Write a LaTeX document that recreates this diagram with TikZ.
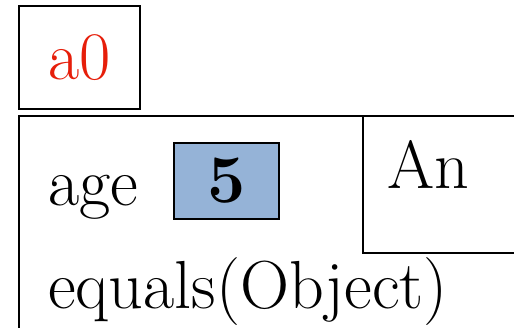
\documentclass[tikz,border=0pt]{standalone}
\usepackage{tikz}
\usetikzlibrary{positioning}
\usepackage{xcolor}
\definecolor{refred}{RGB}{230,30,10}
\definecolor{valblue}{RGB}{149,179,215}
\tikzstyle{label} = [font=\fontsize{68}{80}\selectfont, inner sep=0pt, anchor=base west]
\tikzstyle{refbox} = [rectangle, draw=black, line width=2.8pt, minimum width=121pt, minimum height=103pt, inner sep=0pt, text=refred, font=\fontsize{68}{80}\selectfont]
\tikzstyle{valbox} = [rectangle, draw=black, line width=1.8pt, fill=valblue, minimum width=105pt, minimum height=76pt, inner sep=0pt, font=\fontsize{68}{80}\selectfont\bfseries]
\tikzstyle{frame} = [draw=black, line width=2.8pt]
\tikzstyle{field} = [draw=black, line width=1.6pt]

\begin{document}
\begin{tikzpicture}[x=1pt,y=-1pt]
        \useasboundingbox (0,0) rectangle (514,327);
        \clip (0,0) rectangle (514,327);
        \node (a0) [refbox] at (79.5,57.5) {a0};
        
        \draw [frame] (540,116) -| (19,345);
        \draw [field] (363,116) |- (540,253);
        
        \node (age) [label] at (48,205) {age};
        \node (val) [valbox] at (226.5,181) {5};
        \node (an) [label] at (387,188) {An};
        \node (eq) [label] at (48,308) {equals(Object)};
    \end{tikzpicture}
\end{document}
